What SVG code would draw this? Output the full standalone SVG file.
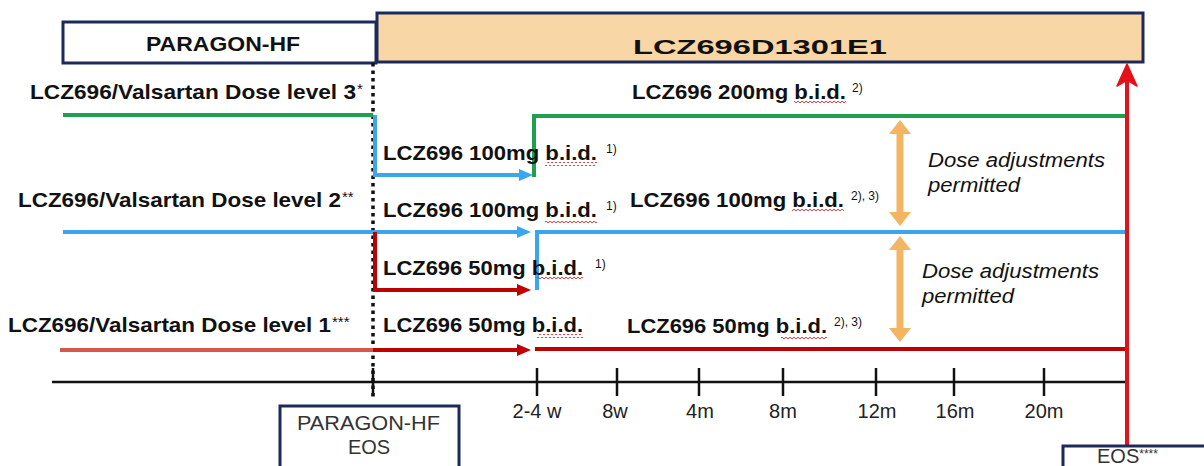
<svg xmlns="http://www.w3.org/2000/svg" width="1204" height="466" viewBox="0 0 1204 466">
<defs>
<style>
.b{font-family:"Liberation Sans",Arial,sans-serif;font-weight:bold;font-size:21px;fill:#111}
.sup{font-family:"Liberation Sans",Arial,sans-serif;font-size:12px;fill:#111}
.ast{font-family:"Liberation Sans",Arial,sans-serif;font-size:15px;fill:#111}
.it{font-family:"Liberation Sans",Arial,sans-serif;font-style:italic;font-size:20px;fill:#111}
.n{font-family:"Liberation Sans",Arial,sans-serif;font-size:20px;fill:#333}
.tk{font-family:"Liberation Sans",Arial,sans-serif;font-size:20px;fill:#222;text-anchor:middle}
.box{fill:#fff;stroke:#1c2a5a;stroke-width:3}
.ln{fill:none;stroke-width:4}
.g{stroke:#1fa04f}
.bl{stroke:#3aa6ef}
.dr{stroke:#c00000}
.lr{stroke:#d6574c}
.tick{stroke:#111;stroke-width:2.5}
</style>
<pattern id="sq" width="4" height="4" patternUnits="userSpaceOnUse"><polyline points="0,3 2,1 4,3" fill="none" stroke="#e03030" stroke-width="0.9"/></pattern>
</defs>
<rect width="1204" height="466" fill="#fff"/>

<g id="header-paragon"><rect class="box" x="63" y="22" width="313" height="41"/><text class="b" x="146" y="51" textLength="154" lengthAdjust="spacingAndGlyphs">PARAGON-HF</text></g>
<g id="header-lcz"><rect x="377" y="13" width="766" height="49" fill="#f9d6a6" stroke="#1c2a5a" stroke-width="3"/><text class="b" x="633" y="54" font-size="29" textLength="254" lengthAdjust="spacingAndGlyphs">LCZ696D1301E1</text></g>

<g id="connectors">
<line x1="373" y1="63" x2="373" y2="398" stroke="#111" stroke-width="3.5" stroke-dasharray="3.5 4"/>
<line class="ln g" x1="63" y1="115" x2="373" y2="115"/>
<polyline class="ln bl" points="375,115 375,175 522,175"/>
<path d="M533,175 L519,169 L519,181 Z" fill="#3aa6ef"/>
<polyline class="ln g" points="534,177 534,116 1127,116"/>
<line class="ln bl" x1="63" y1="232" x2="520" y2="232"/>
<path d="M531,232 L517,226 L517,238 Z" fill="#3aa6ef"/>
<polyline class="ln bl" points="537,290 537,232 1127,232"/>
<polyline class="ln dr" points="375,232 375,290 520,290"/>
<path d="M531,290 L517,284 L517,296 Z" fill="#c00000"/>
<line class="ln lr" x1="60" y1="350" x2="373" y2="350"/>
<line class="ln dr" x1="373" y1="350" x2="520" y2="350"/>
<path d="M531,350 L517,344 L517,356 Z" fill="#c00000"/>
<line class="ln dr" x1="535" y1="349" x2="1127" y2="349"/>
<line x1="52" y1="382" x2="1127" y2="382" stroke="#111" stroke-width="2.5"/>
<g class="tick">
<line x1="373" y1="368" x2="373" y2="396"/><line x1="537" y1="368" x2="537" y2="396"/><line x1="617" y1="368" x2="617" y2="396"/><line x1="699" y1="368" x2="699" y2="396"/><line x1="783" y1="368" x2="783" y2="396"/><line x1="876" y1="368" x2="876" y2="396"/><line x1="954" y1="368" x2="954" y2="396"/><line x1="1044" y1="368" x2="1044" y2="396"/>
</g>
<line x1="1127" y1="446" x2="1127" y2="80" stroke="#e5101a" stroke-width="4"/>
<path d="M1127,64 L1117,86 L1127,80 L1137,86 Z" fill="#e5101a" stroke="#e5101a" stroke-width="1.5" stroke-linejoin="round"/>
<path d="M900,120 L889,134 L896.5,134 L896.5,212 L889,212 L900,226 L911,212 L903.5,212 L903.5,134 L911,134 Z" fill="#f3b562"/>
<path d="M900,236 L889,250 L896.5,250 L896.5,328 L889,328 L900,342 L911,328 L903.5,328 L903.5,250 L911,250 Z" fill="#f3b562"/>
</g>

<g id="labels">
<text class="b" x="30" y="99" textLength="326" lengthAdjust="spacingAndGlyphs">LCZ696/Valsartan Dose level 3</text><text class="ast" x="357" y="94">*</text>
<text class="b" x="18" y="207" textLength="323" lengthAdjust="spacingAndGlyphs">LCZ696/Valsartan Dose level 2</text><text class="ast" x="342" y="202">**</text>
<text class="b" x="8" y="332" textLength="323" lengthAdjust="spacingAndGlyphs">LCZ696/Valsartan Dose level 1</text><text class="ast" x="332" y="327">***</text>

<text class="b" x="632" y="99" textLength="214" lengthAdjust="spacingAndGlyphs">LCZ696 200mg b.i.d.</text><text class="sup" x="852" y="92">2)</text>
<text class="b" x="383" y="160" textLength="214" lengthAdjust="spacingAndGlyphs">LCZ696 100mg b.i.d.</text><text class="sup" x="606" y="153">1)</text>
<text class="b" x="383" y="217" textLength="214" lengthAdjust="spacingAndGlyphs">LCZ696 100mg b.i.d.</text><text class="sup" x="606" y="210">1)</text>
<text class="b" x="630" y="207" textLength="214" lengthAdjust="spacingAndGlyphs">LCZ696 100mg b.i.d.</text><text class="sup" x="851" y="200">2), 3)</text>
<text class="b" x="383" y="275" textLength="200" lengthAdjust="spacingAndGlyphs">LCZ696 50mg b.i.d.</text><text class="sup" x="595" y="268">1)</text>
<text class="b" x="383" y="332" textLength="200" lengthAdjust="spacingAndGlyphs">LCZ696 50mg b.i.d.</text>
<text class="b" x="627" y="333" textLength="200" lengthAdjust="spacingAndGlyphs">LCZ696 50mg b.i.d.</text><text class="sup" x="834" y="326">2), 3)</text>

<rect x="794" y="101" width="52" height="4" fill="url(#sq)"/>
<rect x="545" y="162" width="52" height="4" fill="url(#sq)"/>
<rect x="545" y="219" width="52" height="4" fill="url(#sq)"/>
<rect x="792" y="209" width="52" height="4" fill="url(#sq)"/>
<rect x="537" y="277" width="46" height="4" fill="url(#sq)"/>
<rect x="537" y="334" width="46" height="4" fill="url(#sq)"/>
<rect x="781" y="335" width="46" height="4" fill="url(#sq)"/>

<text class="it" x="928" y="167" textLength="177" lengthAdjust="spacingAndGlyphs">Dose adjustments</text>
<text class="it" x="928" y="192" textLength="92" lengthAdjust="spacingAndGlyphs">permitted</text>
<text class="it" x="922" y="278" textLength="177" lengthAdjust="spacingAndGlyphs">Dose adjustments</text>
<text class="it" x="922" y="303" textLength="92" lengthAdjust="spacingAndGlyphs">permitted</text>

<text class="tk" x="537" y="418">2-4 w</text>
<text class="tk" x="615" y="418">8w</text>
<text class="tk" x="700" y="418">4m</text>
<text class="tk" x="783" y="418">8m</text>
<text class="tk" x="877" y="418">12m</text>
<text class="tk" x="955" y="418">16m</text>
<text class="tk" x="1044" y="418">20m</text>
</g>

<g id="eos-paragon"><rect class="box" x="280" y="406" width="179" height="70"/><text class="n" x="297" y="430" textLength="143" lengthAdjust="spacingAndGlyphs">PARAGON-HF</text><text class="n" x="369" y="454" text-anchor="middle">EOS</text></g>
<g id="eos-end"><rect class="box" x="1063" y="446" width="150" height="30"/><text class="n" x="1097" y="463" font-size="17">EOS<tspan font-size="12" dy="-5">****</tspan></text></g>
</svg>
